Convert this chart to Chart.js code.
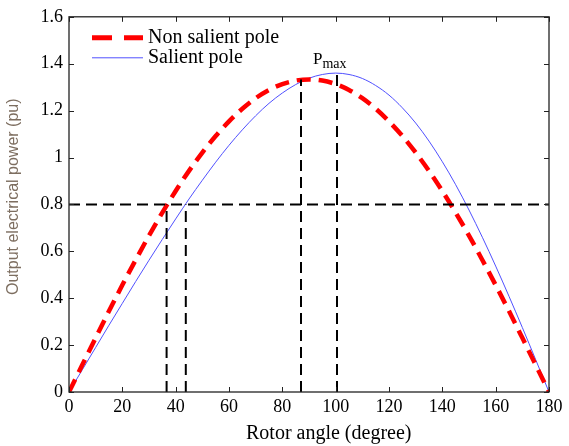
<!DOCTYPE html>
<html>
<head>
<meta charset="utf-8">
<script src="https://cdn.jsdelivr.net/npm/chart.js@4"></script>
<style>
html,body{margin:0;padding:0;background:#fff;}
#wrap{width:569px;height:446px;position:relative;}
</style>
</head>
<body>
<div id="wrap"><canvas id="c" width="569" height="446"></canvas></div>
<script>
// Rotor angle samples (degree)
const angles = [0,5,10,15,20,25,30,35,40,45,50,55,60,65,70,75,80,85,90,95,100,105,110,115,120,125,130,135,140,145,150,155,160,165,170,175,180];
// Non salient pole output power (pu)
const nonSalient = [0,0.116,0.231,0.345,0.456,0.563,0.667,0.765,0.857,0.943,1.021,1.092,1.154,1.208,1.253,1.288,1.313,1.328,1.333,1.328,1.313,1.288,1.253,1.208,1.154,1.092,1.021,0.943,0.857,0.765,0.667,0.563,0.456,0.345,0.231,0.116,0];
// Salient pole output power (pu)
const salient = [0,0.095,0.190,0.285,0.378,0.471,0.562,0.651,0.738,0.823,0.903,0.980,1.052,1.118,1.178,1.231,1.275,1.311,1.338,1.354,1.360,1.354,1.337,1.307,1.266,1.212,1.147,1.070,0.982,0.884,0.776,0.660,0.537,0.408,0.275,0.138,0];
// Reference (dashed) lines
const refLevel = 0.8;
const refX = [36.6, 43.8, 87, 100.5];
const refTop = [0.8, 0.8, 1.333, 1.36];
// Tick labels
const xTickLabels = ['0','20','40','60','80','100','120','140','160','180'];
const yTickLabels = ['0','0.2','0.4','0.6','0.8','1','1.2','1.4','1.6'];
const seriesLabels = ['Non salient pole','Salient pole'];
const xTitle = 'Rotor angle (degree)';
const yTitle = 'Output electrical power (pu)';
const pmaxAt = {x: 91.5, y: 1.397};

const SERIF = '"Liberation Serif","Times New Roman",serif';
const SANS = '"Liberation Sans",Arial,sans-serif';
const RED = 'rgb(255,0,0)';
const BLUE = 'rgb(80,80,255)';

const pts = (ys) => angles.map((a,i)=>({x:a,y:ys[i]}));
const refDs = [];
refDs.push({label:'ref', data:[{x:0,y:refLevel},{x:180,y:refLevel}], borderColor:'#000', borderWidth:2, borderDash:[11,6], pointRadius:0, order:0});
refX.forEach((x,i)=>refDs.push({label:'ref', data:[{x:x,y:0},{x:x,y:refTop[i]}], borderColor:'#000', borderWidth:2, borderDash:[11,6], pointRadius:0, order:0}));

const framePlugin = {
  id:'frame',
  afterDraw(chart){
    const {ctx, chartArea:a, scales:{x,y}} = chart;
    ctx.save();
    ctx.strokeStyle = '#222';
    ctx.lineWidth = 1.3;
    ctx.strokeRect(a.left, a.top, a.right-a.left, a.bottom-a.top);
    ctx.lineWidth = 1;
    const tl = 5;
    ctx.beginPath();
    x.ticks.forEach(t=>{
      const px = Math.round(x.getPixelForValue(t.value))+0.5;
      ctx.moveTo(px,a.bottom); ctx.lineTo(px,a.bottom-tl);
      ctx.moveTo(px,a.top); ctx.lineTo(px,a.top+tl);
    });
    y.ticks.forEach(t=>{
      const py = Math.round(y.getPixelForValue(t.value))+0.5;
      ctx.moveTo(a.left,py); ctx.lineTo(a.left+tl,py);
      ctx.moveTo(a.right,py); ctx.lineTo(a.right-tl,py);
    });
    ctx.stroke();

    // Legend (inside, top-left)
    const lx0 = a.left + 23, lx1 = a.left + 74, tx = a.left + 79;
    const rows = [
      {y:a.top+21, color:RED, w:5, dash:[20,12], text:seriesLabels[0]},
      {y:a.top+41, color:BLUE, w:1, dash:[], text:seriesLabels[1]}
    ];
    ctx.font = '20px ' + SERIF;
    ctx.textBaseline = 'middle';
    ctx.textAlign = 'left';
    rows.forEach(r=>{
      ctx.beginPath();
      ctx.strokeStyle = r.color; ctx.lineWidth = r.w; ctx.setLineDash(r.dash);
      ctx.moveTo(lx0, r.y); ctx.lineTo(lx1, r.y); ctx.stroke();
      ctx.setLineDash([]);
      ctx.fillStyle = '#000';
      ctx.fillText(r.text, tx, r.y);
    });

    // Pmax label
    const px = x.getPixelForValue(pmaxAt.x), py = y.getPixelForValue(pmaxAt.y);
    ctx.textBaseline = 'alphabetic';
    ctx.font = '17px ' + SERIF;
    ctx.fillText('P', px, py);
    const pw = ctx.measureText('P').width;
    ctx.font = '14px ' + SERIF;
    ctx.fillText('max', px + pw, py + 4);

    // Axis titles
    ctx.font = '20px ' + SERIF;
    ctx.textAlign = 'left';
    ctx.fillStyle = '#000';
    ctx.fillText(xTitle, 246, 439);

    ctx.save();
    ctx.translate(18, 295);
    ctx.rotate(-Math.PI/2);
    ctx.font = '16px ' + SANS;
    ctx.fillStyle = '#7d6e60';
    ctx.textAlign = 'left';
    ctx.fillText(yTitle, 0, 0);
    ctx.restore();
    ctx.restore();
  }
};

new Chart(document.getElementById('c'), {
  type:'line',
  data:{
    datasets:[
      ...refDs,
      {label:seriesLabels[0], data:pts(nonSalient), borderColor:RED, borderWidth:4.5, borderDash:[14,8], pointRadius:0, cubicInterpolationMode:'monotone', order:1},
      {label:seriesLabels[1], data:pts(salient), borderColor:BLUE, borderWidth:1, pointRadius:0, cubicInterpolationMode:'monotone', order:1}
    ]
  },
  options:{
    responsive:false,
    animation:false,
    layout:{padding:{left:0, right:20, top:12, bottom:0}},
    plugins:{legend:{display:false}, tooltip:{enabled:false}},
    scales:{
      x:{
        type:'linear', min:0, max:180,
        grid:{display:false, drawTicks:false},
        border:{display:false},
        ticks:{stepSize:20, padding:4, color:'#000', font:{family:SERIF, size:18}, maxRotation:0,
          callback:(v,i)=>xTickLabels[i]},
        afterFit:(s)=>{s.height = 54;}
      },
      y:{
        type:'linear', min:0, max:1.6,
        grid:{display:false, drawTicks:false},
        border:{display:false},
        ticks:{stepSize:0.2, padding:6, color:'#000', font:{family:SERIF, size:18},
          callback:(v,i)=>yTickLabels[i]},
        afterFit:(s)=>{s.width = 69;}
      }
    }
  },
  plugins:[framePlugin]
});
</script>
</body>
</html>
